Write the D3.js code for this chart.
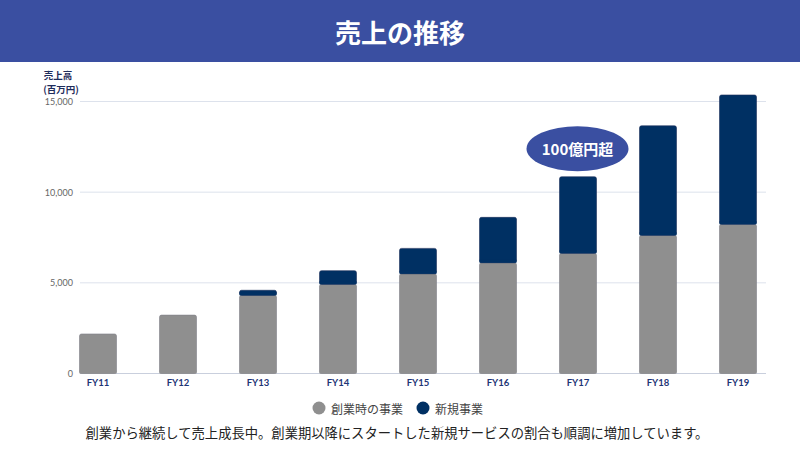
<!DOCTYPE html>
<html><head><meta charset="utf-8">
<script src="https://cdn.jsdelivr.net/npm/d3@7"></script>
<style>
html,body{margin:0;padding:0;background:#fff;}
svg{display:block;font-family:"Noto Sans CJK JP","Noto Sans",sans-serif;}
</style></head>
<body><svg id="c" width="800" height="450"></svg>
<script>
const categories = ["FY11","FY12","FY13","FY14","FY15","FY16","FY17","FY18","FY19"];
const founding = [2180,3220,4310,4920,5500,6110,6630,7620,8230];
const newBiz   = [0,0,280,750,1400,2500,4220,6040,7130];
const yTicks = [0,5000,10000,15000];
const seriesNames = ["創業時の事業","新規事業"];
const colors = ["#8f8f8f","#003063"];
const title = "売上の推移";
const axisTitle = ["売上高","(百万円)"];
const badge = "100億円超";
const caption = "創業から継続して売上成長中。創業期以降にスタートした新規サービスの割合も順調に増加しています。";

const svg = d3.select("#c");
svg.append("rect").attr("x",0).attr("y",0).attr("width",800).attr("height",62).attr("fill","#3a4fa1");
svg.append("text").attr("x",400).attr("y",31).attr("text-anchor","middle").attr("dominant-baseline","central")
  .attr("fill","#fff").attr("font-size",26).attr("font-weight","bold").text(title);

const x = d3.scaleBand().domain(categories).range([58,778]).paddingInner(0.5375).paddingOuter(0.26875);
const y = d3.scaleLinear().domain([0,15000]).range([373.5,101.5]);

// gridlines
svg.append("g").selectAll("line").data(yTicks).join("line")
  .attr("x1",80).attr("x2",766).attr("y1",d=>y(d)).attr("y2",d=>y(d))
  .attr("stroke",d=>d===0?"#c9cfdd":"#dde2ec").attr("stroke-width",1);

// y axis labels
const yAxis = d3.axisLeft(y).tickValues(yTicks).tickFormat(d3.format(",")).tickSize(0).tickPadding(0);
const ga = svg.append("g").attr("transform","translate(73,0)").call(yAxis);
ga.select(".domain").remove();
ga.selectAll("text").attr("fill","#666").attr("font-size",9).attr("font-family","Lato,'Noto Sans',sans-serif");

// axis title
svg.append("text").attr("x",58).attr("y",79).attr("text-anchor","middle").attr("fill","#1f2d5c")
  .attr("font-size",9.5).attr("font-weight","bold").text(axisTitle[0]);
svg.append("text").attr("x",61).attr("y",93).attr("text-anchor","middle").attr("fill","#1f2d5c")
  .attr("font-size",9.5).attr("font-weight","bold").text(axisTitle[1]);

// stacked bars
const data = categories.map((c,i)=>({cat:c, founding:founding[i], newBiz:newBiz[i]}));
const stack = d3.stack().keys(["founding","newBiz"])(data);
const gb = svg.append("g");
stack.forEach((layer,li)=>{
  gb.append("g").selectAll("rect").data(layer.filter(d=>d[1]-d[0]>0)).join("rect")
    .attr("x",d=>x(d.data.cat)).attr("width",x.bandwidth())
    .attr("y",d=>y(d[1])).attr("height",d=>y(d[0])-y(d[1]))
    .attr("fill",colors[li]).attr("rx",2).attr("ry",2)
    .attr("stroke",li===0?"#7f7f88":"#1d2f5a").attr("stroke-width",0.6);
});
// square off the joins
stack.forEach((layer,li)=>{
  gb.append("g").selectAll("rect").data(layer.filter(d=>d[1]-d[0]>0)).join("rect")
    .attr("x",d=>x(d.data.cat)).attr("width",x.bandwidth())
    .attr("y",d=>y(d[0])-3).attr("height",3)
    .attr("fill",colors[li]);
});

// x labels
const xAxis = d3.axisBottom(x).tickSize(0).tickPadding(0);
const gx = svg.append("g").attr("transform","translate(0,379)").call(xAxis);
gx.select(".domain").remove();
gx.selectAll("text").attr("fill","#1e3575").attr("font-size",9.5).attr("font-weight","bold")
  .attr("font-family","Lato,'Noto Sans',sans-serif").attr("dy","0.71em");

// badge
const bx = x("FY17")+x.bandwidth()/2 - 0.5, by = y(10853) - 28;
svg.append("ellipse").attr("cx",bx).attr("cy",by).attr("rx",51).attr("ry",22.5).attr("fill","#3a4fa1");
svg.append("text").attr("x",bx).attr("y",by).attr("text-anchor","middle").attr("dominant-baseline","central")
  .attr("fill","#fff").attr("font-size",15).attr("font-weight","bold").text(badge);

// legend
const leg = svg.append("g");
const lx = [319,423];
seriesNames.forEach((n,i)=>{
  leg.append("circle").attr("cx",lx[i]).attr("cy",408).attr("r",6.5).attr("fill",colors[i]);
  leg.append("text").attr("x",lx[i]+12).attr("y",408).attr("dominant-baseline","central")
    .attr("fill","#444").attr("font-size",12).text(n);
});

// caption
svg.append("text").attr("x",397).attr("y",432).attr("text-anchor","middle").attr("dominant-baseline","central")
  .attr("fill","#222").attr("font-size",13.3).text(caption);
</script></body></html>
